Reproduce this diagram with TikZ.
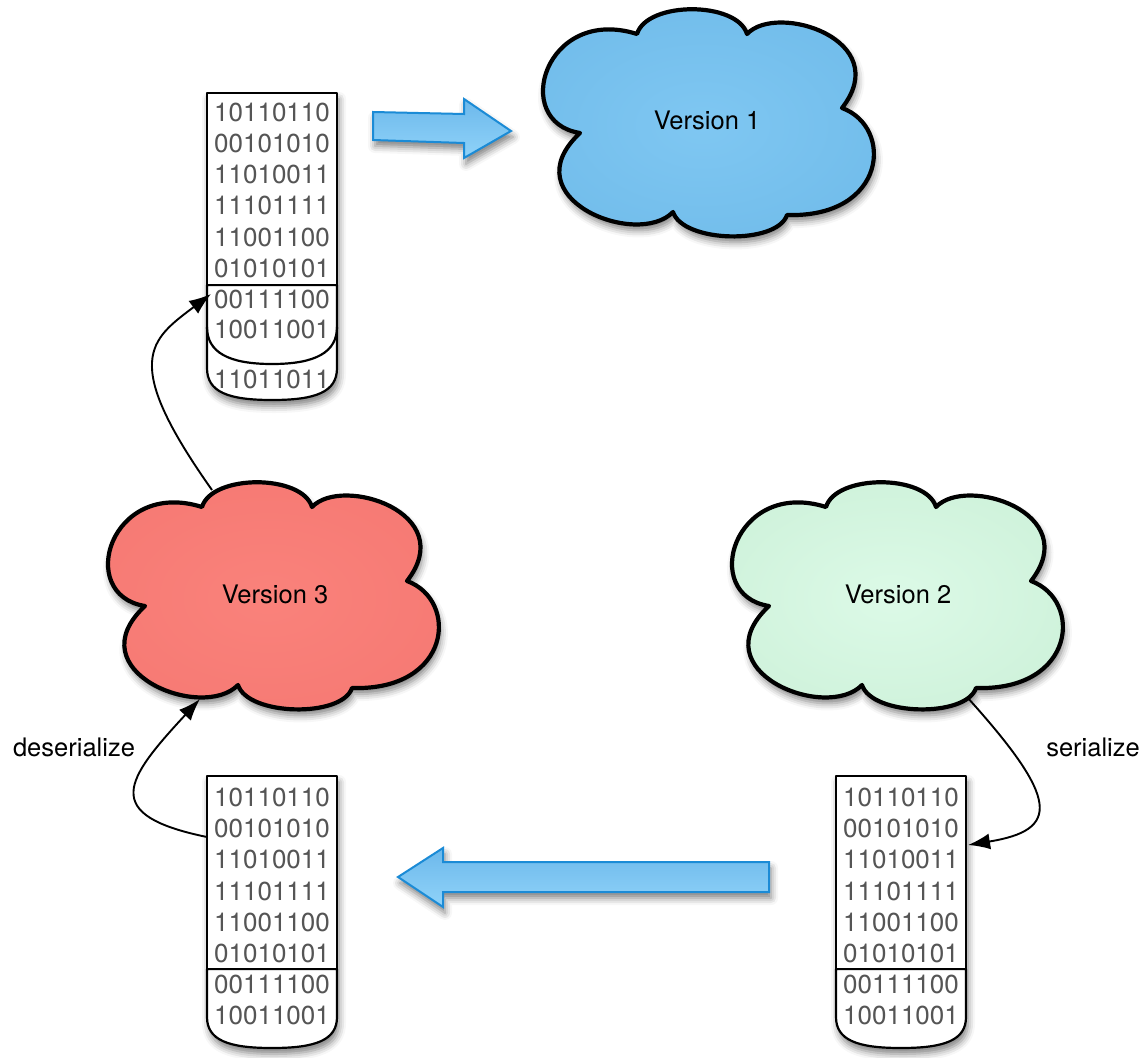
\documentclass[tikz,border=0pt]{standalone}
\usepackage{fontspec}
\setmainfont{TeX Gyre Heros}
\usetikzlibrary{arrows.meta,shadows.blur}
\definecolor{bitgray}{HTML}{555555}
\definecolor{cblue}{HTML}{72BDEB}
\definecolor{cbluein}{HTML}{7FC7F2}
\definecolor{cred}{HTML}{F67A74}
\definecolor{credin}{HTML}{FA827B}
\definecolor{cgreen}{HTML}{CFF2DB}
\definecolor{cgreenin}{HTML}{DCFAE7}
\definecolor{arrowline}{HTML}{1B8BD6}
\definecolor{arrowtop}{HTML}{6CB8EB}
\definecolor{arrowbot}{HTML}{90D3F9}
\newcommand\cloudoutline{(-127,11) .. controls (-197,0) and (-162,-117) .. (-70,-88)
  .. controls (-60,-121) and (30,-121) .. (40,-88)
  .. controls (70,-120) and (188,-82) .. (135,-14)
  .. controls (187,5) and (180,96) .. (80,93)
  .. controls (70,123) and (-24,121) .. (-34,90)
  .. controls (-70,127) and (-197,76) .. (-127,11) -- cycle}
\tikzset{
  softshadow/.style={blur shadow={shadow xshift=2pt, shadow yshift=-6pt, shadow blur radius=7pt, shadow opacity=50}},
  cloudbody/.style={draw=black, line width=4.2pt, line join=round, preaction={softshadow}},
  blockfill/.style={fill=white, draw=black, line width=2.2pt, line join=round},
  blockline/.style={draw=black, line width=2.2pt},
  bits/.style={text=bitgray, inner sep=0pt, font=\fontsize{26}{30}\selectfont},
  label/.style={text=black, inner sep=0pt, font=\fontsize{25.5}{30}\selectfont},
  bluearrow/.style={top color=arrowtop, bottom color=arrowbot, draw=arrowline, line width=2pt, line join=miter, preaction={softshadow}},
  conn/.style={draw=black, line width=1.9pt, -{Latex[length=22pt,width=16pt]}}
}
\begin{document}
\begin{tikzpicture}[x=1pt,y=-1pt]
\useasboundingbox (0,0) rectangle (1147,1057);

% ---------- clouds ----------
\path[cloudbody, shift={(707,122)}, shading=radial, inner color=cbluein, outer color=cblue] \cloudoutline;
\node[label] (v1) at (707,120) {Version 1};

\path[cloudbody, shift={(272,595)}, shading=radial, inner color=credin, outer color=cred] \cloudoutline;
\node[label] (v3) at (275,594) {Version 3};

\path[cloudbody, shift={(896,595)}, shading=radial, inner color=cgreenin, outer color=cgreen] \cloudoutline;
\node[label] (v2) at (898,594) {Version 2};

% ---------- top-left block ----------
\path[softshadow] (207,93) -- (207,368) .. controls (207,392) and (228,400) .. (272,400)
  .. controls (316,400) and (337,392) .. (337,368) -- (337,93) -- cycle;
\path[blockfill] (207,285) -- (207,368) .. controls (207,392) and (228,400) .. (272,400)
  .. controls (316,400) and (337,392) .. (337,368) -- (337,285) -- cycle;
\path[blockline] (207,327) .. controls (207,352) and (228,364) .. (272,364)
  .. controls (316,364) and (337,352) .. (337,327);
\path[blockfill] (207,93) rectangle (337,285);
\node[bits] (a1) at (272,112) {10110110};
\node[bits] (a2) at (272,143) {00101010};
\node[bits] (a3) at (272,174) {11010011};
\node[bits] (a4) at (272,205) {11101111};
\node[bits] (a5) at (272,237) {11001100};
\node[bits] (a6) at (272,268) {01010101};
\node[bits] (a7) at (272,299) {00111100};
\node[bits] (a8) at (272,329) {10011001};
\node[bits] (a9) at (272,379) {11011011};

% ---------- bottom-left block ----------
\path[softshadow] (207,776) -- (207,1017) .. controls (207,1040) and (228,1048) .. (272,1048)
  .. controls (316,1048) and (337,1040) .. (337,1017) -- (337,776) -- cycle;
\path[blockfill] (207,969) -- (207,1017) .. controls (207,1040) and (228,1048) .. (272,1048)
  .. controls (316,1048) and (337,1040) .. (337,1017) -- (337,969) -- cycle;
\path[blockfill] (207,776) rectangle (337,969);
\node[bits] (b1) at (272,797) {10110110};
\node[bits] (b2) at (272,828) {00101010};
\node[bits] (b3) at (272,859) {11010011};
\node[bits] (b4) at (272,891) {11101111};
\node[bits] (b5) at (272,922) {11001100};
\node[bits] (b6) at (272,953) {01010101};
\node[bits] (b7) at (272,984) {00111100};
\node[bits] (b8) at (272,1015) {10011001};

% ---------- bottom-right block ----------
\path[softshadow] (836,776) -- (836,1017) .. controls (836,1040) and (857,1048) .. (901,1048)
  .. controls (945,1048) and (966,1040) .. (966,1017) -- (966,776) -- cycle;
\path[blockfill] (836,969) -- (836,1017) .. controls (836,1040) and (857,1048) .. (901,1048)
  .. controls (945,1048) and (966,1040) .. (966,1017) -- (966,969) -- cycle;
\path[blockfill] (836,776) rectangle (966,969);
\node[bits] (c1) at (901,797) {10110110};
\node[bits] (c2) at (901,828) {00101010};
\node[bits] (c3) at (901,859) {11010011};
\node[bits] (c4) at (901,891) {11101111};
\node[bits] (c5) at (901,922) {11001100};
\node[bits] (c6) at (901,953) {01010101};
\node[bits] (c7) at (901,984) {00111100};
\node[bits] (c8) at (901,1015) {10011001};

% ---------- blue arrows ----------
\path[bluearrow] (373,112) -- (464,114) -- (464,99) -- (511,131) -- (464,158) -- (464,143) -- (373,140) -- cycle;
\path[bluearrow] (769,862) -- (443,862) -- (443,848) -- (398,877) -- (443,907) -- (443,892) -- (769,892) -- cycle;

% ---------- connectors ----------
\coordinate (c3top) at (212,490);
\coordinate (tlin) at (211,294);
\coordinate (blout) at (207,837);
\coordinate (c3bot) at (200,699);
\coordinate (c2bot) at (967,697);
\coordinate (brin) at (968,845);
\draw[conn] (c3top) .. controls (120,360) and (150,340) .. (tlin);
\draw[conn] (blout) .. controls (100,815) and (125,780) .. (c3bot);
\draw[conn] (c2bot) .. controls (1060,800) and (1060,830) .. (brin);

\node[label] (deser) at (74,747) {deserialize};
\node[label] (ser) at (1093,747) {serialize};
\end{tikzpicture}
\end{document}
